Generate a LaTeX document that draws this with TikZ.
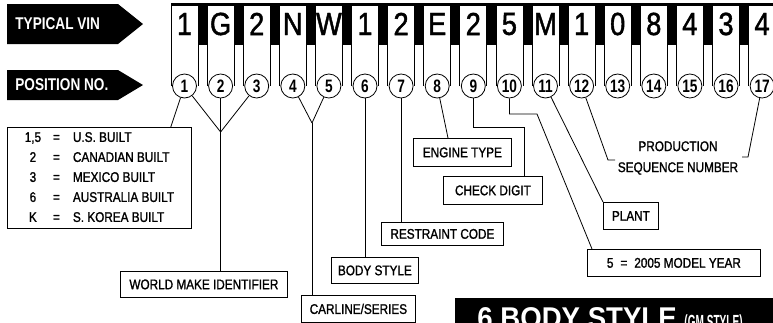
\documentclass[tikz,border=0pt]{standalone}
\usepackage{fontspec}
\setmainfont{Liberation Sans}[FakeStretch=0.84,FakeBold=1.3]
\newfontfamily\vinfont{Liberation Sans}[FakeStretch=0.85,FakeBold=1.4]
\newfontfamily\numfont{Liberation Sans}[FakeStretch=0.76]
\newfontfamily\tagfont{Liberation Sans}[FakeStretch=0.8]
\newfontfamily\headfont{Liberation Sans}[FakeStretch=0.92]
\newfontfamily\subheadfont{Liberation Sans}[FakeStretch=0.53]
\begin{document}
\begin{tikzpicture}[x=1pt,y=-1pt,line width=0.8pt,
  lbl/.style={draw,rectangle,inner sep=0pt,anchor=north west,font=\fontsize{14}{16}\selectfont},
  posno/.style={circle,draw,fill=white,minimum size=24pt,inner sep=0pt,font=\numfont\bfseries\fontsize{18}{18}\selectfont},
  vinch/.style={inner sep=0pt,font=\vinfont\fontsize{32}{32}\selectfont},
  tag/.style={anchor=west,inner sep=0pt,text=white,font=\tagfont\bfseries\fontsize{17}{17}\selectfont}]
\useasboundingbox (0,0) rectangle (773,322);
\clip (0,0) rectangle (773,322);
% left arrows
\fill (7,4) -- (118,4) -- (143,24) -- (118,44) -- (7,44) -- cycle;
\fill (7,70) -- (118,70) -- (143,85) -- (118,100) -- (7,100) -- cycle;
\node[tag] (typvin) at (15,24) {TYPICAL VIN};
\node[tag] (posnum) at (15,85) {POSITION NO.};
% vin band with one tab per character
\fill (171,3) rectangle (780,45);
\foreach \c [count=\i] in {1,G,2,N,W,1,2,E,2,5,M,1,0,8,4,3,4} {
  \pgfmathsetmacro\xx{184.5+36.1*(\i-1)}
  \fill[white] (\xx-13.5,5) rectangle (\xx+13.5,86);
  \draw (\xx-13.5,86) -- (\xx-13.5,5) -- (\xx+13.5,5) -- (\xx+13.5,86);
  \node[vinch] (v\i) at (\xx,24) {\c};
  \node[posno] (p\i) at (\xx,86) {\i};
}
% boxes below
\node[lbl,minimum width=184,minimum height=101,font=\fontsize{14}{20}\selectfont] (legend) at (7,127) {\begin{tabular}{@{}c@{\hspace{12pt}}c@{\hspace{13pt}}l@{}}
1,5 & = & U.S. BUILT\\ 2 & = & CANADIAN BUILT\\ 3 & = & MEXICO BUILT\\ 6 & = & AUSTRALIA BUILT\\ K & = & S. KOREA BUILT\end{tabular}};
\node[lbl,minimum width=167,minimum height=26] (wmi) at (120,271) {WORLD MAKE IDENTIFIER};
\node[lbl,minimum width=114,minimum height=27] (carline) at (301,295) {CARLINE/SERIES};
\node[lbl,minimum width=87,minimum height=26] (body) at (331,257) {BODY STYLE};
\node[lbl,minimum width=122,minimum height=23] (restraint) at (381,222) {RESTRAINT CODE};
\node[lbl,minimum width=98,minimum height=28] (engine) at (413,138) {ENGINE TYPE};
\node[lbl,minimum width=99,minimum height=28] (check) at (443,176) {CHECK DIGIT};
\node[lbl,minimum width=55,minimum height=27] (plant) at (603,202) {PLANT};
\node[lbl,minimum width=173,minimum height=27] (year) at (587,249) {5\enspace=\enspace2005 MODEL YEAR};
\node[align=center,inner sep=0pt,font=\fontsize{14}{21}\selectfont] (seq) at (678,158) {PRODUCTION\\SEQUENCE NUMBER};
% connectors
\coordinate (wmij) at (p2 |- 0,132);
\coordinate (carj) at (312,123);
\coordinate (chkj) at (524,127);
\coordinate (yrj) at (537,114);
\coordinate (seqL) at (608,160);
\coordinate (seqR) at (748,157);
\draw (p1) -- ([xshift=-21pt]legend.north east);
\foreach \A/\B in {p1/wmij,p3/wmij,p4/carj,p5/carj}{\draw (\A) -- (\B);}
\foreach \A/\B in {p2/wmi,carj/carline,p6/body,p7/restraint}{\draw (\A) -- (\A |- \B.north);}
\draw (p8) -- ([xshift=35pt]engine.north west);
\draw (p9) |- (chkj) -- (chkj |- check.north);
\draw (p10) |- (yrj) -- ([xshift=5pt]year.north west);
\draw (p11) -- (plant.north west);
\draw (p12) -- (seqL) -- ++(7,0);
\draw (p17) -- (seqR) -- ++(-6,0);
% section heading, cut by the page edge
\fill (455,298) rectangle (780,330);
\node[anchor=base west,inner sep=0pt,text=white] (title) at (477,328) {\headfont\bfseries\fontsize{30}{30}\selectfont 6 BODY STYLE {\subheadfont\fontsize{19}{19}\selectfont (GM STYLE)}};
\end{tikzpicture}
\end{document}
